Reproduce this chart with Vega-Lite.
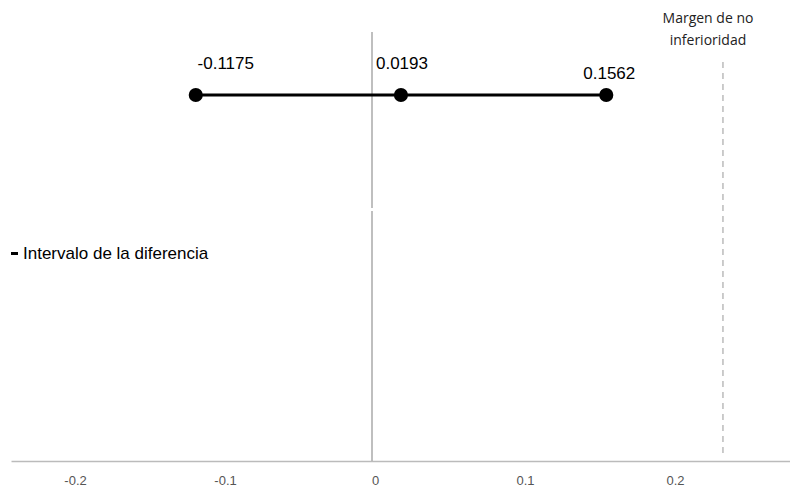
{
  "$schema": "https://vega.github.io/schema/vega-lite/v6.json",
  "width": 779,
  "height": 450,
  "autosize": {"type": "none"},
  "padding": {"left": 11, "top": 11, "right": 0, "bottom": 28},
  "background": "white",
  "config": {"view": {"stroke": null}, "font": "Liberation Sans"},
  "datasets": {
    "intervalo": [
      {"serie": "Intervalo de la diferencia", "punto": "Límite inferior", "diferencia": -0.1175, "nivel": 366},
      {"serie": "Intervalo de la diferencia", "punto": "Estimación", "diferencia": 0.0193, "nivel": 366},
      {"serie": "Intervalo de la diferencia", "punto": "Límite superior", "diferencia": 0.1562, "nivel": 366}
    ],
    "cero": [
      {"x": 0, "y": 429, "y2": 253},
      {"x": 0, "y": 250, "y2": 0}
    ],
    "margen": [
      {"x": 0.234, "y": 399, "y2": 6, "texto": ["Margen de no", "inferioridad"], "ytexto": 449}
    ]
  },
  "encoding": {},
  "layer": [
    {
      "data": {"name": "cero"},
      "mark": {"type": "rule", "color": "#aaaaaa", "strokeWidth": 1.5},
      "encoding": {
        "x": {"field": "x", "type": "quantitative", "scale": {"domain": [-0.2407, 0.2787], "nice": false, "zero": false},
          "axis": {"values": [-0.2, -0.1, 0, 0.1, 0.2], "labelExpr": "datum.value + ''", "ticks": false, "grid": false,
            "domainColor": "#bbbbbb", "domainWidth": 1.5, "labelColor": "#555555", "labelFontSize": 13, "labelPadding": 13,
            "labelOffset": 3, "title": null, "labelFont": "Liberation Sans"}},
        "y": {"field": "y", "type": "quantitative", "scale": {"domain": [0, 450], "nice": false}, "axis": null},
        "y2": {"field": "y2"}
      }
    },
    {
      "data": {"name": "margen"},
      "mark": {"type": "rule", "color": "#aaaaaa", "strokeWidth": 1.2, "strokeDash": [6, 5]},
      "encoding": {
        "x": {"field": "x", "type": "quantitative"},
        "y": {"field": "y", "type": "quantitative"},
        "y2": {"field": "y2"}
      }
    },
    {
      "data": {"name": "margen"},
      "mark": {"type": "text", "font": "Open Sans", "fontSize": 14, "color": "#222222", "align": "center", "baseline": "top", "lineHeight": 22, "dx": -15},
      "encoding": {
        "x": {"field": "x", "type": "quantitative"},
        "y": {"field": "ytexto", "type": "quantitative"},
        "text": {"field": "texto"}
      }
    },
    {
      "data": {"name": "intervalo"},
      "mark": {"type": "line", "strokeWidth": 3},
      "encoding": {
        "x": {"field": "diferencia", "type": "quantitative"},
        "y": {"field": "nivel", "type": "quantitative"},
        "color": {"field": "serie", "type": "nominal", "scale": {"range": ["black"]},
          "legend": {"title": null, "orient": "none", "legendX": -5, "legendY": 234, "symbolType": "stroke",
            "symbolSize": 49, "symbolStrokeWidth": 3, "labelFontSize": 17, "labelColor": "black",
            "labelFont": "Liberation Sans", "labelOffset": 0, "labelLimit": 400, "padding": 0}}
      }
    },
    {
      "data": {"name": "intervalo"},
      "mark": {"type": "point", "filled": true, "size": 200, "color": "black", "opacity": 1},
      "encoding": {
        "x": {"field": "diferencia", "type": "quantitative"},
        "y": {"field": "nivel", "type": "quantitative"}
      }
    },
    {
      "data": {"name": "intervalo"},
      "transform": [{"filter": "datum.diferencia < 0"}],
      "mark": {"type": "text", "fontSize": 17, "color": "black", "align": "center", "baseline": "alphabetic", "dx": 30, "dy": -26},
      "encoding": {
        "x": {"field": "diferencia", "type": "quantitative"},
        "y": {"field": "nivel", "type": "quantitative"},
        "text": {"field": "diferencia", "type": "nominal"}
      }
    },
    {
      "data": {"name": "intervalo"},
      "transform": [{"filter": "datum.diferencia > 0 && datum.diferencia < 0.1"}],
      "mark": {"type": "text", "fontSize": 17, "color": "black", "align": "center", "baseline": "alphabetic", "dx": 1, "dy": -26},
      "encoding": {
        "x": {"field": "diferencia", "type": "quantitative"},
        "y": {"field": "nivel", "type": "quantitative"},
        "text": {"field": "diferencia", "type": "nominal"}
      }
    },
    {
      "data": {"name": "intervalo"},
      "transform": [{"filter": "datum.diferencia > 0.1"}],
      "mark": {"type": "text", "fontSize": 17, "color": "black", "align": "center", "baseline": "alphabetic", "dx": 3, "dy": -16},
      "encoding": {
        "x": {"field": "diferencia", "type": "quantitative"},
        "y": {"field": "nivel", "type": "quantitative"},
        "text": {"field": "diferencia", "type": "nominal"}
      }
    }
  ]
}
